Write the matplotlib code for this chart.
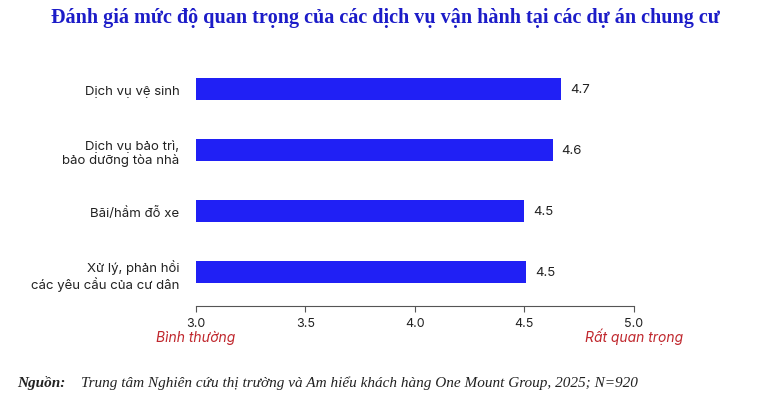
import matplotlib.pyplot as plt

services = ['Dịch vụ vệ sinh', 'Dịch vụ bảo trì,\nbảo dưỡng tòa nhà',
            'Bãi/hầm đỗ xe', 'Xử lý, phản hồi\ncác yêu cầu của cư dân']
scores = [4.67, 4.63, 4.50, 4.51]
ticks = [3.0, 3.5, 4.0, 4.5, 5.0]

plt.rcParams['font.family'] = ['Inter', 'DejaVu Sans']

fig = plt.figure(figsize=(7.7, 4.1), dpi=100)
ax = fig.add_axes([0.2545, 0.251, 0.5685, 0.59])

ypos = range(len(services))
ax.barh(ypos, [s - 3.0 for s in scores], left=3.0, height=0.36, color='#2020f5')
for y, s in zip(ypos, scores):
    ax.text(s + 0.04, y, f'{s:.1f}', va='center', ha='left', fontsize=9.5, color='#222222')

ax.set_xlim(3.0, 5.0)
ax.set_ylim(3.557, -0.41)
ax.set_yticks(list(ypos))
ax.set_yticklabels(services, fontsize=9.5, color='#222222')
ax.set_xticks(ticks)
ax.set_xticklabels([f'{t:.1f}' for t in ticks], fontsize=9, color='#222222')
ax.tick_params(axis='y', length=0, pad=12)
ax.tick_params(axis='x', length=4, color='#555555')
for side in ['top', 'right', 'left']:
    ax.spines[side].set_visible(False)
ax.spines['bottom'].set_color('#555555')

fig.text(0.2545, 0.165, 'Bình thường', color='#c0272d', fontsize=10, style='italic', ha='center')
fig.text(0.823, 0.165, 'Rất quan trọng', color='#c0272d', fontsize=10, style='italic', ha='center')

fig.text(0.5, 0.945, 'Đánh giá mức độ quan trọng của các dịch vụ vận hành tại các dự án chung cư',
         family='Liberation Serif', fontweight='bold', fontsize=14.5, color='#1c1cc8', ha='center')

fig.text(0.022, 0.055, 'Nguồn:', family='Liberation Serif', fontweight='bold', style='italic',
         fontsize=11, color='#222222')
fig.text(0.105, 0.055, 'Trung tâm Nghiên cứu thị trường và Am hiểu khách hàng One Mount Group, 2025; N=920',
         family='Liberation Serif', style='italic', fontsize=11, color='#222222')

fig.savefig('out.png', dpi=100)
